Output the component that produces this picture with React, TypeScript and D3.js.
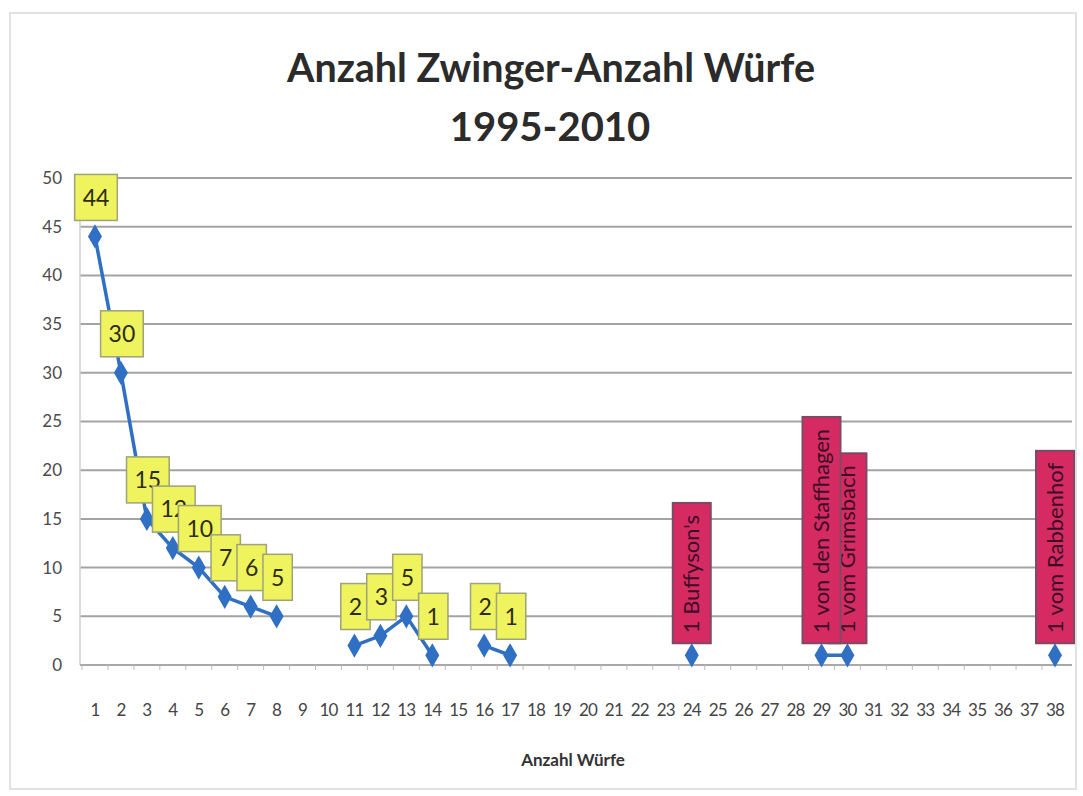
import React, { useEffect, useRef } from "react";
import * as d3 from "d3";

// Anzahl Würfe (x categories)
const categories = [
  "1", "2", "3", "4", "5", "6", "7", "8", "9", "10",
  "11", "12", "13", "14", "15", "16", "17", "18", "19", "20",
  "21", "22", "23", "24", "25", "26", "27", "28", "29", "30",
  "31", "32", "33", "34", "35", "36", "37", "38",
];

// Anzahl Zwinger per Anzahl Würfe (null = no kennel)
const kennels: (number | null)[] = [
  44, 30, 15, 12, 10, 7, 6, 5, null, null,
  2, 3, 5, 1, null, 2, 1, null, null, null,
  null, null, null, 1, null, null, null, null, 1, 1,
  null, null, null, null, null, null, null, 1,
];

// single kennels that got a name instead of a number
const namedCats = ["24", "29", "30", "38"];
const kennelNames = ["1 Buffyson's", "1 von den Staffhagen", "1 vom Grimsbach", "1 vom Rabbenhof"];

const yTicks = [0, 5, 10, 15, 20, 25, 30, 35, 40, 45, 50];

const FONT = "Lato, 'Open Sans', sans-serif";

function Chart() {
  const ref = useRef<SVGSVGElement>(null);

  useEffect(() => {
    const svg = d3.select(ref.current);
    svg.selectAll("*").remove();

    const left = 80, right = 1072, top = 178, bottom = 665;

    const x = d3.scaleBand().domain(categories).range([82, 1068]);
    const y = d3.scaleLinear().domain([0, 50]).range([bottom, top]);
    const cx = (c: string) => (x(c) as number) + x.bandwidth() / 2;

    svg.append("rect").attr("width", 1083).attr("height", 796).attr("fill", "#fff");
    svg.append("rect")
      .attr("x", 10).attr("y", 13).attr("width", 1066).attr("height", 776)
      .attr("fill", "none").attr("stroke", "#e2e2e2").attr("stroke-width", 2);

    // title
    const title = svg.append("g").attr("font-family", FONT).attr("font-weight", "bold")
      .attr("fill", "#2b2b2b").attr("text-anchor", "middle");
    title.append("text").attr("x", 551).attr("y", 82).attr("font-size", 40)
      .attr("textLength", 528).attr("lengthAdjust", "spacingAndGlyphs")
      .text("Anzahl Zwinger-Anzahl Würfe");
    title.append("text").attr("x", 550).attr("y", 141).attr("font-size", 40)
      .text("1995-2010");

    // gridlines
    svg.append("g").selectAll("line").data(yTicks.filter(t => t > 0)).join("line")
      .attr("x1", left).attr("x2", right)
      .attr("y1", d => y(d)).attr("y2", d => y(d))
      .attr("stroke", "#a3a3a3").attr("stroke-width", 2);

    // axes
    svg.append("line").attr("x1", left).attr("x2", left).attr("y1", top).attr("y2", bottom)
      .attr("stroke", "#d0d0d0").attr("stroke-width", 1.5);
    svg.append("line").attr("x1", left).attr("x2", right).attr("y1", bottom).attr("y2", bottom)
      .attr("stroke", "#a8a8a8").attr("stroke-width", 2);
    svg.append("g").selectAll("line").data(categories).join("line")
      .attr("x1", d => x(d) as number).attr("x2", d => x(d) as number)
      .attr("y1", bottom).attr("y2", bottom + 5)
      .attr("stroke", "#bbb");

    svg.append("g").attr("font-family", FONT).attr("font-size", 17).attr("fill", "#4a4a4a")
      .attr("text-anchor", "end")
      .selectAll("text").data(yTicks).join("text")
      .attr("x", 62).attr("y", d => y(d)).attr("dy", "0.35em")
      .text(d => d);

    svg.append("g").attr("font-family", FONT).attr("font-size", 17).attr("fill", "#444")
      .attr("text-anchor", "middle").attr("letter-spacing", -0.8)
      .selectAll("text").data(categories).join("text")
      .attr("x", d => cx(d)).attr("y", 710).attr("dy", "0.35em")
      .text(d => d);

    svg.append("text").attr("x", 573).attr("y", 766).attr("text-anchor", "middle")
      .attr("font-family", FONT).attr("font-weight", "bold").attr("font-size", 17)
      .attr("fill", "#333").text("Anzahl Würfe");

    // line + markers
    const line = d3.line<number | null>()
      .defined(d => d != null)
      .x((d, i) => cx(categories[i]))
      .y(d => y(d as number));

    svg.append("path").datum(kennels).attr("d", line)
      .attr("fill", "none").attr("stroke", "#2f6fc4").attr("stroke-width", 3.5);

    const pts = categories.map((c, i) => ({ c, v: kennels[i] })).filter(p => p.v != null);

    svg.append("g").selectAll("path").data(pts).join("path")
      .attr("d", d3.symbol(d3.symbolDiamond, 170))
      .attr("transform", d => `translate(${cx(d.c)},${y(d.v as number)})`)
      .attr("fill", "#2f6fc4");

    // yellow number labels
    const numbered = pts.filter(p => !namedCats.includes(p.c));
    numbered.forEach(p => {
      const g = svg.append("g")
        .attr("transform", `translate(${cx(p.c) + 1},${y(p.v as number) - 39})`);
      const rect = g.append("rect");
      const t = g.append("text").attr("text-anchor", "middle").attr("dy", "0.36em")
        .attr("font-family", FONT).attr("font-size", 23).attr("fill", "#2e2c14")
        .text(String(p.v));
      const w = (t.node() as SVGTextElement).getComputedTextLength();
      rect.attr("x", -(w / 2 + 8)).attr("y", -23).attr("width", w + 16).attr("height", 46)
        .attr("fill", "#eef35e").attr("stroke", "#9ea37a").attr("stroke-width", 1.5);
    });

    // red name labels, drawn right to left so the left one sits on top
    const named = namedCats.map((c, i) => ({ c, name: kennelNames[i], v: kennels[categories.indexOf(c)] }));
    named.slice().reverse().forEach(p => {
      const g = svg.append("g")
        .attr("transform", `translate(${cx(p.c)},${y(p.v as number) - 12})`);
      const rect = g.append("rect");
      const t = g.append("text").attr("transform", "rotate(-90)")
        .attr("x", 10).attr("dy", "0.35em")
        .attr("font-family", FONT).attr("font-size", 22).attr("fill", "#3b0f25")
        .text(p.name);
      const len = (t.node() as SVGTextElement).getComputedTextLength();
      rect.attr("x", -19).attr("y", -(len + 22)).attr("width", 38).attr("height", len + 22)
        .attr("fill", "#d62a63").attr("stroke", "#7d4a66").attr("stroke-width", 2);
    });
  }, []);

  return (
    <svg ref={ref} width={1083} height={796}
      style={{ position: "absolute", left: 0, top: 0, display: "block" }} />
  );
}

export default function App() {
  return <Chart />;
}
